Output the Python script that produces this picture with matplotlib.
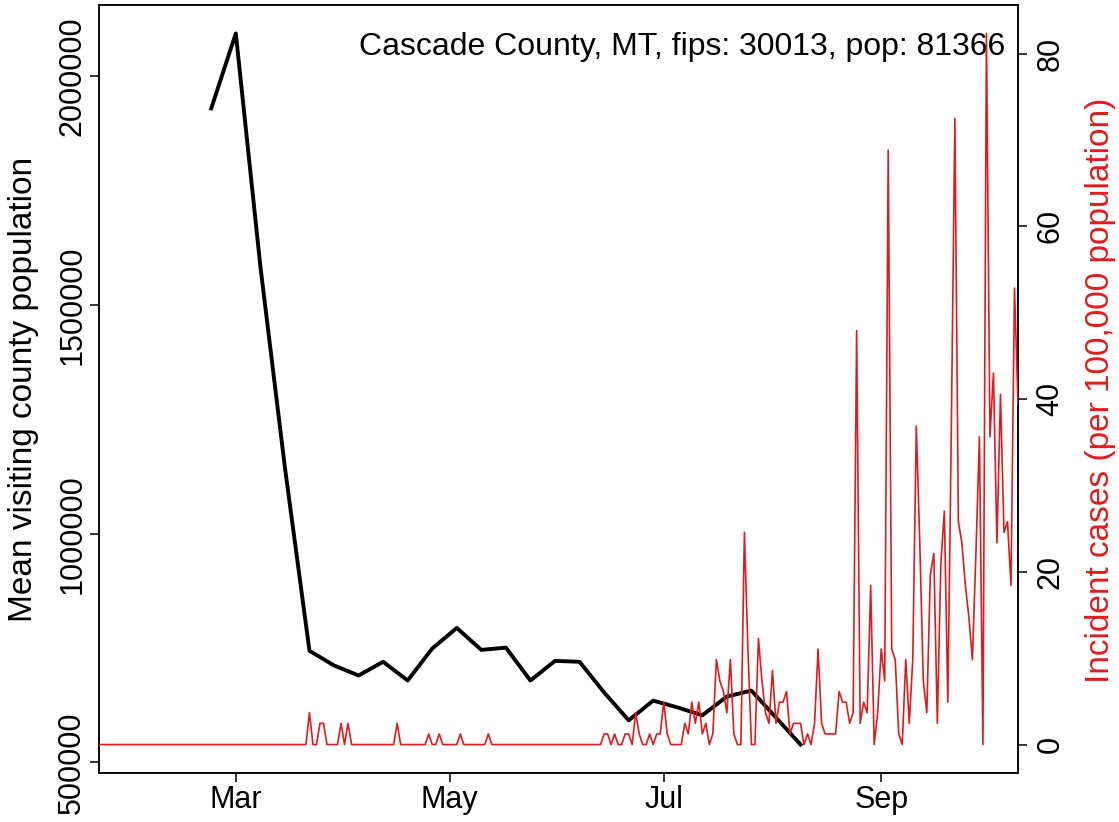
import numpy as np
import matplotlib

matplotlib.use("Agg")
import matplotlib.pyplot as plt
import matplotlib.dates as mdates

plt.rcParams["font.family"] = ["Liberation Sans", "DejaVu Sans"]

COUNTY = "Cascade County, MT"
FIPS = 30013
POP = 81366

# weekly mean visiting county population, one value per Sunday from 2020-02-23
visit_start = np.datetime64("2020-02-23")
visit_pop = [
    1930000, 2094000, 1585000, 1145000, 744000, 712000, 690000, 720000,
    679000, 749000, 794000, 746000, 751000, 679000, 722000, 720000,
    653000, 592000, 635000, 620000, 603000, 644000, 657000, 598000, 539000,
]

# daily new reported cases from 2020-01-22, one list per month
cases_jan = [0, 0, 0, 0, 0, 0, 0, 0, 0, 0]
cases_feb = [0, 0, 0, 0, 0, 0, 0, 0, 0, 0, 0, 0, 0, 0, 0,
             0, 0, 0, 0, 0, 0, 0, 0, 0, 0, 0, 0, 0, 0]
cases_mar = [0, 0, 0, 0, 0, 0, 0, 0, 0, 0, 0, 0, 0, 0, 0, 0,
             0, 0, 0, 0, 0, 3, 0, 0, 2, 2, 0, 0, 0, 0, 2]
cases_apr = [0, 2, 0, 0, 0, 0, 0, 0, 0, 0, 0, 0, 0, 0, 0,
             2, 0, 0, 0, 0, 0, 0, 0, 0, 1, 0, 0, 1, 0, 0]
cases_may = [0, 0, 0, 1, 0, 0, 0, 0, 0, 0, 0, 1, 0, 0, 0, 0,
             0, 0, 0, 0, 0, 0, 0, 0, 0, 0, 0, 0, 0, 0, 0]
cases_jun = [0, 0, 0, 0, 0, 0, 0, 0, 0, 0, 0, 0, 0, 1, 1,
             0, 1, 0, 0, 1, 1, 0, 3, 1, 0, 0, 1, 0, 1, 1]
cases_jul = [4, 1, 0, 0, 0, 0, 2, 1, 4, 2, 4, 1, 2, 0, 1, 8,
             6, 5, 3, 8, 1, 0, 0, 20, 9, 0, 0, 10, 6, 3, 2]
cases_aug = [7, 2, 4, 4, 5, 1, 2, 2, 2, 0, 1, 0, 2, 9, 2, 1,
             1, 1, 1, 5, 4, 4, 2, 3, 39, 2, 4, 3, 15, 0, 3]
cases_sep = [9, 6, 56, 9, 8, 1, 0, 8, 2, 8, 30, 19, 6, 3, 16,
             18, 2, 17, 22, 4, 30, 59, 21, 19, 15, 12, 8, 18, 29, 0]
cases_oct = [67, 29, 35, 19, 33, 20, 21, 15, 43, 32]
case_start = np.datetime64("2020-01-22")

daily_cases = (cases_jan + cases_feb + cases_mar + cases_apr + cases_may
               + cases_jun + cases_jul + cases_aug + cases_sep + cases_oct)
incidence = np.array(daily_cases) / POP * 1e5
case_days = case_start + np.arange(len(daily_cases))
visit_days = visit_start + 7 * np.arange(len(visit_pop))

tick_months = ["2020-03-01", "2020-05-01", "2020-07-01", "2020-09-01"]
left_ticks = [500000, 1000000, 1500000, 2000000]
right_ticks = [0, 20, 40, 60, 80]

RED = "#E31A1C"
FS = 22


def r_range(lo, hi):
    # base-R style 4% padding on each side
    pad = 0.04 * (hi - lo)
    return lo - pad, hi + pad


W, H = 1119, 822
fig = plt.figure(figsize=(W / 100, H / 100), dpi=100)
ax = fig.add_axes([99 / W, 49 / H, 919 / W, 768 / H])

ax.plot(visit_days.astype(object), visit_pop,
        color="black", lw=2.8, solid_joinstyle="round", zorder=2)
ax.set_ylim(*r_range(min(visit_pop), max(visit_pop)))
ax.set_yticks(left_ticks)
ax.set_yticklabels([str(t) for t in left_ticks], rotation=90, va="center")

ax2 = ax.twinx()
ax2.plot(case_days.astype(object), incidence, color=RED, lw=1.2, zorder=3)
ax2.set_ylim(*r_range(0, incidence.max()))
ax2.set_yticks(right_ticks)
ax2.set_yticklabels([str(t) for t in right_ticks], rotation=90, va="center")

ax.set_xlim(case_days[0].astype(object), case_days[-1].astype(object))
ax.set_xticks([np.datetime64(m).astype(object) for m in tick_months])
ax.xaxis.set_major_formatter(mdates.DateFormatter("%b"))

for a in (ax, ax2):
    for s in a.spines.values():
        s.set_linewidth(1.1)
    a.tick_params(direction="out", length=6.5, width=1.1, labelsize=FS)
ax.tick_params(axis="x", pad=2)
ax.tick_params(axis="y", pad=2)
ax2.tick_params(axis="y", pad=6)

ax.text(0.986, 0.935, f"{COUNTY}, fips: {FIPS}, pop: {POP}", transform=ax.transAxes,
        ha="right", va="baseline", fontsize=23)

fig.text(24 / W, 1 - 389 / H, "Mean visiting county population", rotation=90,
         ha="center", va="center", fontsize=24)
fig.text(1100 / W, 1 - 390 / H, "Incident cases (per 100,000 population)", rotation=90,
         ha="center", va="center", fontsize=24, color=RED)

fig.savefig("out.png", dpi=100)
